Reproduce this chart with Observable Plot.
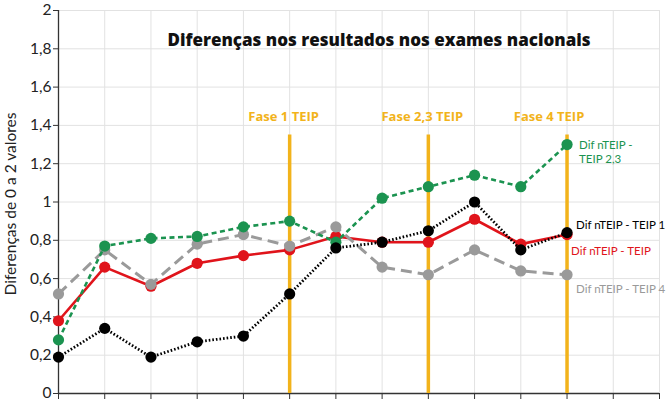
<!DOCTYPE html>
<html>
<head>
<meta charset="utf-8">
<script src="https://cdn.jsdelivr.net/npm/d3@7"></script>
<script src="https://cdn.jsdelivr.net/npm/@observablehq/plot@0.6"></script>
<style>
  body { margin: 0; background: #fff; }
  #chart svg { font-family: Lato, "Open Sans", sans-serif; }
</style>
</head>
<body>
<div id="chart"></div>
<script>
// Twelve successive exam moments (unlabelled on the x axis)
const steps = [0, 1, 2, 3, 4, 5, 6, 7, 8, 9, 10, 11];

// Differences in national exam results (0 to 2 points)
const difTeip23 = [0.28, 0.77, 0.81, 0.82, 0.87, 0.90, 0.79, 1.02, 1.08, 1.14, 1.08, 1.30];
const difTeip4  = [0.52, 0.75, 0.57, 0.78, 0.83, 0.77, 0.87, 0.66, 0.62, 0.75, 0.64, 0.62];
const difTeip   = [0.38, 0.66, 0.56, 0.68, 0.72, 0.75, 0.82, 0.79, 0.79, 0.91, 0.78, 0.83];
const difTeip1  = [0.19, 0.34, 0.19, 0.27, 0.30, 0.52, 0.76, 0.79, 0.85, 1.00, 0.75, 0.84];

// TEIP programme phases
const phaseNames = ["Fase 1 TEIP", "Fase 2,3 TEIP", "Fase 4 TEIP"];
const phaseSteps = [5, 8, 11];
const phaseTop = 1.35;
const phaseLabelY = 1.45;

const xTicks = d3.range(14);
const yTicks = [0, 0.2, 0.4, 0.6, 0.8, 1, 1.2, 1.4, 1.6, 1.8, 2];
const fmt = v => String(+v.toFixed(1)).replace(".", ",");

const GOLD = "#f2b31b";
const series = [
  {name: "Dif nTEIP - TEIP",       values: difTeip,   color: "#e0141b", dash: null,    width: 2.6, label: {dx: 4,  dy: 16}},
  {name: "Dif nTEIP - TEIP 4",     values: difTeip4,  color: "#9a9a9a", dash: "11,6",  width: 3,   label: {dx: 9,  dy: 14}},
  {name: "Dif nTEIP -\nTEIP 2,3",  values: difTeip23, color: "#1b9350", dash: "5,3.5", width: 2.6, label: {dx: 12, dy: 7}},
  {name: "Dif nTEIP - TEIP 1",     values: difTeip1,  color: "#000000", dash: "1.6,2", width: 2.8, label: {dx: 9,  dy: -8}}
];

const rows = s => steps.map((x, i) => ({x, y: s.values[i]}));
const phaseOffsets = [-6, -6, -18];

const marks = [
  Plot.gridX(xTicks, {stroke: "#e2e2e2", strokeOpacity: 1}),
  Plot.gridY(yTicks, {stroke: "#e2e2e2", strokeOpacity: 1}),
  Plot.axisX(xTicks, {tickFormat: () => "", tickSize: 6, stroke: "#333", label: null}),
  Plot.axisY(yTicks, {tickFormat: fmt, tickSize: 5, tickPadding: 2, fontSize: 15.5, fill: "#222", stroke: "#333", label: null}),
  Plot.ruleY([0], {stroke: "#333", strokeWidth: 1.3}),
  Plot.ruleX([0], {stroke: "#333", strokeWidth: 1.3}),
  Plot.ruleX(phaseSteps, {y1: 0, y2: phaseTop, stroke: GOLD, strokeWidth: 3.5}),
  ...phaseNames.map((name, i) => Plot.text([name], {
    x: phaseSteps[i], y: phaseLabelY, text: d => d, dx: phaseOffsets[i], dy: 1,
    fill: GOLD, fontWeight: "bold", fontSize: 13, fontFamily: "Open Sans"
  })),
  Plot.text(["Diferenças nos resultados nos exames nacionais"], {
    frameAnchor: "top", text: d => d, dx: 20, dy: 23,
    fontWeight: 800, fontSize: 17, fontFamily: "Open Sans", fill: "#111"
  }),
  Plot.text(["Diferenças de 0 a 2 valores"], {
    frameAnchor: "left", textAnchor: "middle", text: d => d, rotate: -90, dx: -47, dy: 2,
    fontSize: 15.5, fill: "#222"
  })
];

for (const s of series) {
  marks.push(Plot.line(rows(s), {
    x: "x", y: "y", stroke: s.color, strokeWidth: s.width,
    strokeDasharray: s.dash ?? undefined, strokeLinecap: "butt"
  }));
  marks.push(Plot.dot(rows(s), {x: "x", y: "y", r: 5.6, fill: s.color, stroke: "none"}));
  marks.push(Plot.text(rows(s).slice(-1), {
    x: "x", y: "y", text: () => s.name, textAnchor: "start", lineAnchor: "middle",
    dx: s.label.dx, dy: s.label.dy, fill: s.color, fontSize: 11.5, lineHeight: 1.25
  }));
}

const chart = Plot.plot({
  width: 668,
  height: 400,
  marginLeft: 58,
  marginRight: 9,
  marginTop: 10,
  marginBottom: 7,
  x: {type: "linear", domain: [0, 13]},
  y: {domain: [0, 2]},
  style: {background: "#fff", overflow: "visible"},
  marks
});
document.getElementById("chart").append(chart);
</script>
</body>
</html>
